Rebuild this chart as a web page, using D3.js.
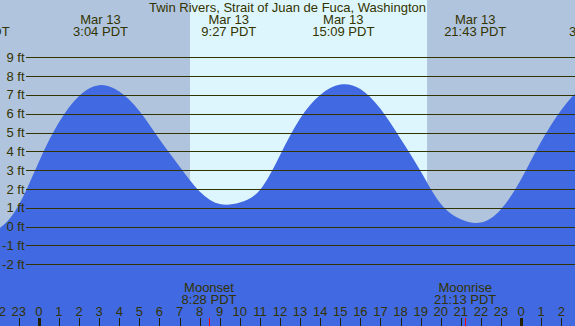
<!DOCTYPE html>
<html lang="en">
<head>
  <meta charset="utf-8">
  <title>Twin Rivers tide</title>
  <script src="https://d3js.org/d3.v7.min.js"></script>
  <style>
    body { margin: 0; background: #B0C4DE; }
    svg { display: block; }
    text { font-family: "Liberation Sans", Arial, sans-serif; font-size: 13px; fill: #333300; }
  </style>
</head>
<body>
<div id="tide"></div>

<script>

// hourly tide height (hours after midnight Mar 13, feet)
var tideHours = [-3, -2, -1, 0, 1, 2, 3, 4, 5, 6, 7, 8, 9, 10, 11, 12, 13, 14, 15, 16,
                 17, 18, 19, 20, 21, 22, 23, 24, 25, 26, 27, 28];
var tideFeet  = [-0.35, -0.1, 1.15, 3.45, 5.55, 6.95, 7.52, 7.18, 6.15, 4.65, 3.2, 1.87,
                 1.2, 1.28, 1.95, 3.8, 5.75, 7.0, 7.55, 7.32, 6.26, 4.67, 2.95, 1.22,
                 0.4, 0.22, 0.93, 2.52, 4.52, 6.2, 7.3, 7.5];

// high / low labels along the top
var eventHours = [-3.0, 3.067, 9.45, 15.15, 21.717, 27.75];
var eventDays  = ["Mar 12", "Mar 13", "Mar 13", "Mar 13", "Mar 13", "Mar 14"];
var eventTimes = ["21:00 PDT", "3:04 PDT", "9:27 PDT", "15:09 PDT", "21:43 PDT", "3:45 PDT"];

// sun and moon
var sunrise = 7.52, sunset = 19.32;
var moonHours = [8.467, 21.217];
var moonNames = ["Moonset", "Moonrise"];
var moonTimes = ["8:28 PDT", "21:13 PDT"];

// axes
var feetTicks = [-2, -1, 0, 1, 2, 3, 4, 5, 6, 7, 8, 9];
var hourTicks = [-2, -1, 0, 1, 2, 3, 4, 5, 6, 7, 8, 9, 10, 11, 12, 13,
                 14, 15, 16, 17, 18, 19, 20, 21, 22, 23, 24, 25, 26];

var title = "Twin Rivers, Strait of Juan de Fuca, Washington";

var width = 575, height = 326;

var svg = d3.select("#tide")
  .append("svg")
    .attr("width", width)
    .attr("height", height);

var x = d3.scaleLinear().domain([0, 24]).range([38.9, 521.1]);
var y = d3.scaleLinear().domain([-2, 9]).range([264.3, 57.3]);

// night background, then daylight band
svg.append("rect")
    .attr("width", width).attr("height", height)
    .style("fill", "#B0C4DE");
svg.append("rect")
    .attr("x", x(sunrise)).attr("width", x(sunset) - x(sunrise))
    .attr("y", 0).attr("height", height)
    .style("fill", "#DDF6FD");

// water
var pts = tideHours.map(function(h, i) { return [h, tideFeet[i]]; });
var area = d3.area()
    .curve(d3.curveNatural)
    .x(function(d) { return x(d[0]); })
    .y0(height)
    .y1(function(d) { return y(d[1]); });
svg.append("path")
    .datum(pts)
    .attr("d", area)
    .style("fill", "#4169E1");

// horizontal foot lines
svg.selectAll(".grid")
  .data(feetTicks)
  .enter()
  .append("line")
    .attr("x1", 26).attr("x2", width)
    .attr("y1", function(d) { return Math.round(y(d)) + 0.5; })
    .attr("y2", function(d) { return Math.round(y(d)) + 0.5; })
    .style("stroke", "#333300")
    .style("stroke-width", 1);

svg.selectAll(".ftlabel")
  .data(feetTicks)
  .enter()
  .append("text")
    .attr("x", 24.5)
    .attr("y", function(d) { return y(d) + 4.5; })
    .attr("text-anchor", "end")
    .text(function(d) { return d + " ft"; });

// title and tide events
svg.append("text")
    .attr("x", width / 2).attr("y", 11.7)
    .attr("text-anchor", "middle")
    .text(title);

var ev = svg.selectAll(".event")
  .data(eventHours)
  .enter()
  .append("g");
ev.append("text")
    .attr("x", function(d) { return x(d); })
    .attr("y", 24)
    .attr("text-anchor", "middle")
    .text(function(d, i) { return eventDays[i]; });
ev.append("text")
    .attr("x", function(d) { return x(d); })
    .attr("y", 35.7)
    .attr("text-anchor", "middle")
    .text(function(d, i) { return eventTimes[i]; });

// moon events
var mo = svg.selectAll(".moon")
  .data(moonHours)
  .enter()
  .append("g");
mo.append("text")
    .attr("x", function(d) { return x(d); })
    .attr("y", 292)
    .attr("text-anchor", "middle")
    .text(function(d, i) { return moonNames[i]; });
mo.append("text")
    .attr("x", function(d) { return x(d); })
    .attr("y", 303.8)
    .attr("text-anchor", "middle")
    .text(function(d, i) { return moonTimes[i]; });

// hour axis along the bottom
svg.selectAll(".hlabel")
  .data(hourTicks)
  .enter()
  .append("text")
    .attr("x", function(d) { return x(d); })
    .attr("y", 316)
    .attr("text-anchor", "middle")
    .text(function(d) { return (d + 24) % 24; });

svg.selectAll(".htick")
  .data(hourTicks)
  .enter()
  .append("line")
    .attr("x1", function(d) { return Math.round(x(d)) + 0.5; })
    .attr("x2", function(d) { return Math.round(x(d)) + 0.5; })
    .attr("y1", 318).attr("y2", height)
    .style("stroke", "#222200")
    .style("stroke-width", function(d) { return (d % 24 === 0) ? 3 : 1; });

svg.selectAll(".mtick")
  .data(moonHours)
  .enter()
  .append("line")
    .attr("x1", function(d) { return Math.round(x(d)) + 0.5; })
    .attr("x2", function(d) { return Math.round(x(d)) + 0.5; })
    .attr("y1", 318).attr("y2", height)
    .style("stroke", "#FF0000")
    .style("stroke-width", 1);

</script>
</body>
</html>
